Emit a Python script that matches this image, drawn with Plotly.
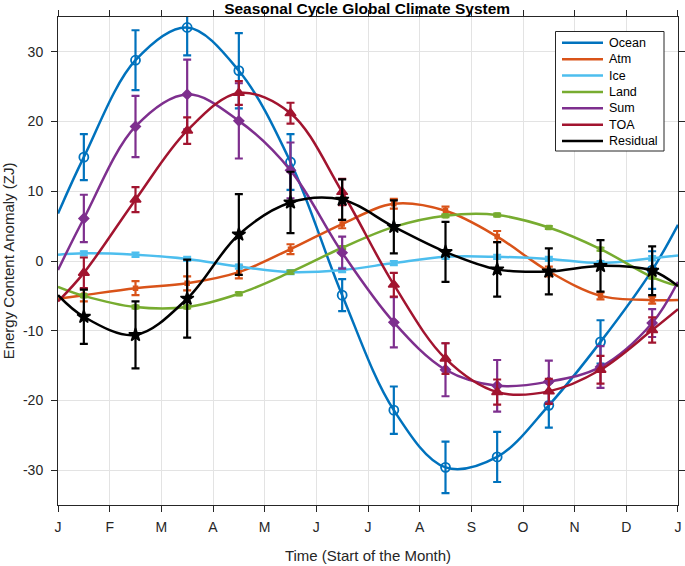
import plotly.graph_objects as go

# ---- data ----
month_labels = ["J", "F", "M", "A", "M", "J", "J", "A", "S", "O", "N", "D", "J"]
month_ticks = [0, 1, 2, 3, 4, 5, 6, 7, 8, 9, 10, 11, 12]
y_ticks = [-30, -20, -10, 0, 10, 20, 30]
y_tick_labels = ["-30", "-20", "-10", "0", "10", "20", "30"]
mid_month = [0.5, 1.5, 2.5, 3.5, 4.5, 5.5, 6.5, 7.5, 8.5, 9.5, 10.5, 11.5]
edge_start = 0.0
edge_end = 12.0

ocean = [14.9, 28.8, 33.5, 27.3, 14.2, -4.9, -21.4, -29.6, -28.1, -20.7, -11.6, -1.3]
ocean_err = [3.3, 4.3, 4.0, 5.4, 4.0, 2.3, 3.4, 3.7, 3.6, 3.2, 3.1, 2.7]
ocean_ends = [6.8, 5.2]

atm = [-4.9, -3.9, -3.2, -1.6, 1.7, 5.3, 8.2, 7.2, 3.5, -1.5, -5.0, -5.6]
atm_err = [0.9, 1.0, 1.0, 0.9, 0.7, 0.6, 0.7, 0.6, 0.8, 0.7, 0.5, 0.5]
atm_ends = [-5.4, -5.6]

ice = [1.1, 0.9, 0.3, -0.8, -1.6, -1.3, -0.3, 0.6, 0.6, 0.3, -0.3, 0.4]
ice_err = [0.3, 0.3, 0.3, 0.3, 0.3, 0.3, 0.3, 0.3, 0.3, 0.3, 0.3, 0.3]
ice_ends = [0.9, 0.8]

land = [-5.0, -6.6, -6.6, -4.7, -1.6, 1.9, 4.9, 6.5, 6.6, 4.8, 1.7, -2.3]
land_err = [0.2, 0.2, 0.2, 0.2, 0.2, 0.2, 0.2, 0.2, 0.2, 0.2, 0.2, 0.2]
land_ends = [-3.7, -3.6]

sum_ = [6.1, 19.3, 23.9, 20.1, 13.0, 1.2, -8.8, -15.6, -17.9, -17.3, -15.2, -8.9]
sum_err = [3.4, 4.4, 5.0, 5.4, 4.0, 2.3, 3.6, 3.8, 3.7, 3.0, 3.0, 2.0]
sum_ends = [-1.3, -3.0]

toa = [-1.7, 8.8, 18.7, 24.1, 21.2, 9.9, -3.4, -14.0, -18.8, -18.7, -15.6, -9.9]
toa_err = [2.2, 1.8, 1.9, 1.7, 1.5, 1.9, 1.7, 2.2, 1.8, 1.8, 2.0, 1.8]
toa_ends = [-5.8, -6.9]

resid = [-8.0, -10.6, -5.4, 3.8, 8.4, 8.8, 4.9, 1.3, -1.2, -1.5, -0.7, -1.4]
resid_err = [3.9, 4.8, 5.6, 5.8, 4.4, 2.9, 3.8, 4.3, 3.9, 3.3, 3.7, 3.5]
resid_ends = [-4.9, -3.6]

series_names = ["Ocean", "Atm", "Ice", "Land", "Sum", "TOA", "Residual"]

# ---- styles ----
series = [
    (ocean, ocean_err, ocean_ends, "#0072BD", "circle-open", 9, 1.8),
    (atm, atm_err, atm_ends, "#D95319", "square", 4, 1.5),
    (ice, ice_err, ice_ends, "#4DBEEE", "square", 4, 1.5),
    (land, land_err, land_ends, "#77AC30", "square", 4, 1.5),
    (sum_, sum_err, sum_ends, "#7E2F8E", "diamond", 7.5, 1.5),
    (toa, toa_err, toa_ends, "#A2142F", "triangle-up", 9.5, 1.5),
    (resid, resid_err, resid_ends, "#000000", "star", 10, 1.5),
]

FONT = "Liberation Sans, Arial, Helvetica, sans-serif"
W, H = 685, 566
L, R, T, B = 58, 7, 17, 61
PW, PH = W - L - R, H - T - B


def px_x(px):
    return (px - L) / PW


def px_y(py):
    return 1 - (py - T) / PH


fig = go.Figure()
for name, (vals, err, ends, color, symbol, msize, mlw) in zip(series_names, series):
    cx = [edge_start] + mid_month + [edge_end]
    cy = [ends[0]] + vals + [ends[1]]
    fig.add_trace(go.Scatter(
        x=cx, y=cy, mode="lines", name=name,
        line=dict(color=color, width=2.5, shape="spline", smoothing=1.0),
        showlegend=False, hoverinfo="skip",
    ))
    fig.add_trace(go.Scatter(
        x=mid_month, y=vals, mode="markers", name=name, showlegend=False,
        marker=dict(symbol=symbol, size=msize, color=color,
                    line=dict(color=color, width=mlw)),
        error_y=dict(type="data", array=err, visible=True, color=color,
                     thickness=2.2, width=4),
    ))

# ---- manual legend (MATLAB-like compact box) ----
leg_x0, leg_x1, leg_y0, leg_y1 = 555.5, 664, 31.5, 151
fig.add_shape(type="rect", xref="paper", yref="paper",
              x0=px_x(leg_x0), x1=px_x(leg_x1), y0=px_y(leg_y1), y1=px_y(leg_y0),
              line=dict(color="#262626", width=1), fillcolor="white", layer="above")
row_y0, row_step = 42.8, 16.37
for i, (name, s) in enumerate(zip(series_names, series)):
    yy = row_y0 + i * row_step
    fig.add_shape(type="line", xref="paper", yref="paper",
                  x0=px_x(562), x1=px_x(603), y0=px_y(yy), y1=px_y(yy),
                  line=dict(color=s[3], width=2.5), layer="above")
    fig.add_annotation(xref="paper", yref="paper", x=px_x(607), y=px_y(yy),
                       text=name, showarrow=False, xanchor="left", yanchor="middle",
                       font=dict(family=FONT, size=12.5, color="#000000"))

axis_common = dict(
    showline=True, linecolor="#262626", linewidth=1, mirror="allticks",
    ticks="outside", ticklen=6, tickcolor="#262626", tickwidth=1,
    showgrid=True, gridcolor="#e3e3e3", gridwidth=1, zeroline=False,
    tickfont=dict(family=FONT, size=14, color="#262626"), automargin=False,
)

fig.update_xaxes(
    range=[-0.0001, 12.0001], tickmode="array", tickvals=month_ticks,
    ticktext=month_labels, ticklabelstandoff=3,
    title=dict(text="Time (Start of the Month)",
               font=dict(family=FONT, size=15, color="#262626"), standoff=16),
    **axis_common,
)
fig.update_yaxes(
    range=[-35, 35], tickmode="array", tickvals=y_ticks, ticktext=y_tick_labels,
    ticklabelstandoff=5,
    title=dict(text="Energy Content Anomaly (ZJ)",
               font=dict(family=FONT, size=15, color="#262626"), standoff=4),
    **axis_common,
)

fig.update_layout(
    width=W, height=H,
    margin=dict(l=L, r=R, t=T, b=B),
    paper_bgcolor="white", plot_bgcolor="white",
    title=dict(text="<b>Seasonal Cycle Global Climate System</b>",
               x=0.536, xanchor="center", y=1 - 8.5 / H, yanchor="middle",
               yref="container",
               font=dict(family=FONT, size=15.5, color="#000000")),
    showlegend=False,
)

fig.write_html(
    "out.html",
    config={"displayModeBar": False},
    post_script="document.body.style.margin='0px';document.body.style.overflow='hidden';",
)
